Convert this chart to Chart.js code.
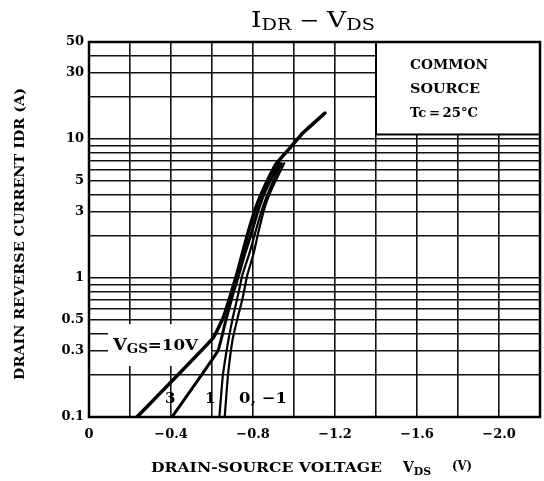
<!DOCTYPE html>
<html><head><meta charset="utf-8">
<script src="https://cdn.jsdelivr.net/npm/chart.js@4.4.0/dist/chart.umd.min.js"></script>
<style>html,body{margin:0;padding:0;background:#fff}canvas{display:block}</style>
</head><body>
<canvas id="c" width="544" height="481"></canvas>
<script>
// ---- data ----
const seriesNames = ['VGS=10V', '3', '1', '0, -1'];
const vds10 = [-0.234,-0.605,-0.655,-0.69,-0.72,-0.748,-0.775,-0.815,-0.855,-0.915,-0.985,-1.044,-1.151];
const idr10 = [0.1,0.37,0.52,0.75,1.05,1.5,2.1,3.25,4.5,6.7,8.8,11.1,15.4];
const vds3  = [-0.405,-0.629,-0.665,-0.70,-0.73,-0.76,-0.792,-0.83,-0.868,-0.93];
const idr3  = [0.1,0.30,0.48,0.75,1.05,1.5,2.1,3.25,4.5,6.7];
const vds1  = [-0.636,-0.652,-0.68,-0.702,-0.722,-0.748,-0.782,-0.81,-0.848,-0.885,-0.94];
const idr1  = [0.1,0.194,0.358,0.525,0.7,1.05,1.5,2.1,3.25,4.5,6.7];
const vds0  = [-0.662,-0.677,-0.70,-0.726,-0.748,-0.772,-0.803,-0.825,-0.858,-0.895,-0.952];
const idr0  = [0.1,0.194,0.358,0.525,0.7,1.05,1.5,2.1,3.25,4.5,6.7];
const yGridValues = [0.1,0.2,0.3,0.4,0.5,0.6,0.7,0.8,0.9,1,2,3,4,5,6,7,8,9,10,20,30,40,50];
const yTickLabels = [0.1,0.3,0.5,1,3,5,10,30,50];
const xTickLabels = [0,-0.4,-0.8,-1.2,-1.6,-2.0];

const FONT = '"DejaVu Serif", "Liberation Serif", serif';
const toPts = (xs, ys) => xs.map((v, i) => ({x: v, y: ys[i]}));

// draw runs of text [text, size, dy, weight] starting at x0, stretched to width w
function drawRuns(ctx, parts, x0, base, w) {
  let total = 0;
  parts.forEach(p => { ctx.font = (p[3] || 'bold') + ' ' + p[1] + 'px ' + FONT; total += ctx.measureText(p[0]).width; });
  const k = w ? w / total : 1;
  ctx.save();
  ctx.translate(x0, base);
  ctx.scale(k, 1);
  ctx.textAlign = 'left';
  ctx.textBaseline = 'alphabetic';
  let xx = 0;
  parts.forEach(p => {
    ctx.font = (p[3] || 'bold') + ' ' + p[1] + 'px ' + FONT;
    ctx.fillText(p[0], xx, p[2] || 0);
    xx += ctx.measureText(p[0]).width;
  });
  ctx.restore();
}

const annot = {
  id: 'annot',
  beforeDatasetsDraw(chart) {
    const {ctx, chartArea: ca, scales: {x, y}} = chart;
    ctx.save();
    ctx.fillStyle = '#fff';
    // gap in the grid behind the VGS label
    const gx0 = x.getPixelForValue(-0.093), gx1 = x.getPixelForValue(-0.595);
    const gy0 = y.getPixelForValue(0.465), gy1 = y.getPixelForValue(0.233);
    ctx.fillRect(gx0, gy0, gx1 - gx0, gy1 - gy0);
    // legend box upper right
    const bx0 = x.getPixelForValue(-1.4), by1 = y.getPixelForValue(10.8);
    ctx.fillRect(bx0, ca.top, ca.right - bx0, by1 - ca.top);
    ctx.strokeStyle = '#000'; ctx.lineWidth = 2;
    ctx.strokeRect(bx0, ca.top, ca.right - bx0, by1 - ca.top);
    ctx.lineWidth = 2.5;
    ctx.strokeRect(ca.left, ca.top, ca.right - ca.left, ca.bottom - ca.top);
    ctx.restore();
  },
  afterDraw(chart) {
    const {ctx} = chart;
    ctx.save();
    ctx.fillStyle = '#000';
    // title
    drawRuns(ctx, [['I', 22, 0, 'normal'], ['DR', 16, 3, 'normal'], [' \u2212 ', 20, 0, 'normal'], ['V', 22, 0, 'normal'], ['DS', 16, 3, 'normal']], 251, 27, 124);
    // x axis title
    drawRuns(ctx, [['DRAIN-SOURCE VOLTAGE', 13, 0]], 151, 472, 231);
    drawRuns(ctx, [['V', 14, 0], ['DS', 11, 3]], 403, 472, 28);
    drawRuns(ctx, [['(V)', 13, 0]], 452, 470, 20);
    // y axis title
    ctx.save();
    ctx.translate(24, 380);
    ctx.rotate(-Math.PI / 2);
    drawRuns(ctx, [['DRAIN REVERSE CURRENT IDR (A)', 13, 0]], 0, 0, 292);
    ctx.restore();
    // box text
    drawRuns(ctx, [['COMMON', 13, 0]], 410, 69, 78);
    drawRuns(ctx, [['SOURCE', 13, 0]], 410, 93, 70);
    drawRuns(ctx, [['Tc\u202F=\u202F25\u00B0C', 13, 0]], 410, 117, 68);
    // VGS label
    drawRuns(ctx, [['V', 16, 0], ['GS', 12, 3], ['=10V', 15, 0]], 113, 350, 85);
    // curve labels
    drawRuns(ctx, [['3', 15, 0]], 165, 403, 0);
    drawRuns(ctx, [['1', 15, 0]], 205, 403, 0);
    drawRuns(ctx, [['0, \u22121', 15, 0]], 239, 403, 48);
    ctx.restore();
  }
};

new Chart(document.getElementById('c'), {
  type: 'line',
  data: {
    datasets: [
      {label: seriesNames[0], data: toPts(vds10, idr10), borderWidth: 3.5},
      {label: seriesNames[1], data: toPts(vds3, idr3), borderWidth: 3},
      {label: seriesNames[2], data: toPts(vds1, idr1), borderWidth: 2.2},
      {label: seriesNames[3], data: toPts(vds0, idr0), borderWidth: 2.2}
    ].map(d => Object.assign(d, {borderColor: '#000', pointRadius: 0, tension: 0.1, fill: false, borderCapStyle: 'round', borderJoinStyle: 'round'}))
  },
  options: {
    responsive: false,
    animation: false,
    layout: {padding: {top: 42, right: 4, left: 0, bottom: 0}},
    plugins: {legend: {display: false}, title: {display: false}, tooltip: {enabled: false}},
    scales: {
      x: {
        type: 'linear', reverse: true, min: -2.2, max: 0,
        afterFit: s => { s.height = 64; s.paddingLeft = 0; s.paddingRight = 0; },
        grid: {color: '#111', lineWidth: 1.6, drawTicks: false},
        border: {display: false},
        ticks: {
          stepSize: 0.2, autoSkip: false, maxRotation: 0, padding: 10,
          color: '#000', font: {family: FONT, weight: 'bold', size: 13},
          callback: v => {
            const r = Math.round(v * 10) / 10;
            if (!xTickLabels.some(t => Math.abs(t - r) < 1e-6)) return '';
            return r === 0 ? '0' : '\u2212' + Math.abs(r).toFixed(1);
          }
        }
      },
      y: {
        type: 'logarithmic', min: 0.1, max: 50,
        afterFit: s => { s.width = 89; s.paddingTop = 0; s.paddingBottom = 0; },
        afterBuildTicks: s => { s.ticks = yGridValues.map(v => ({value: v})); },
        grid: {color: '#111', lineWidth: 1.6, drawTicks: false},
        border: {display: false},
        ticks: {
          autoSkip: false, padding: 5,
          color: '#000', font: {family: FONT, weight: 'bold', size: 13},
          callback: v => yTickLabels.some(t => Math.abs(t - v) < 1e-9) ? String(v) : ''
        }
      }
    }
  },
  plugins: [annot]
});
</script>
</body></html>
